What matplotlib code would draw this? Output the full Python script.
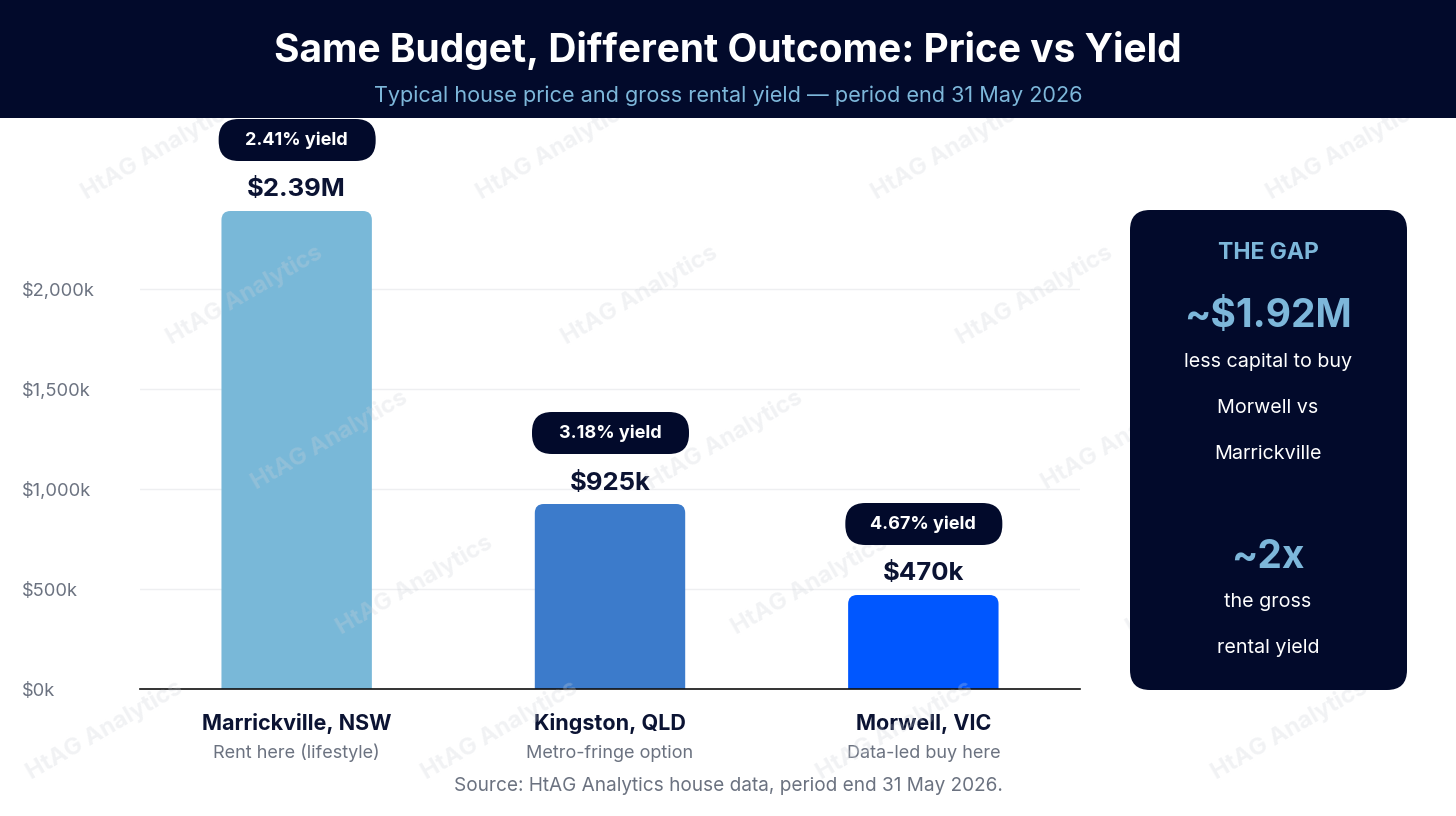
import matplotlib.pyplot as plt
from matplotlib.patches import FancyBboxPatch, Rectangle
from matplotlib.transforms import IdentityTransform, blended_transform_factory

# data
suburbs   = ['Marrickville, NSW', 'Kingston, QLD', 'Morwell, VIC']
roles     = ['Rent here (lifestyle)', 'Metro-fringe option', 'Data-led buy here']
prices_k  = [2390, 925, 470]
price_lbl = ['$2.39M', '$925k', '$470k']
yields    = [2.41, 3.18, 4.67]
ytick_vals = [0, 500, 1000, 1500, 2000]
ytick_lbls = ['$0k', '$500k', '$1,000k', '$1,500k', '$2,000k']
gap_lines = ['less capital to buy', 'Morwell vs', 'Marrickville']
yld_lines = ['the gross', 'rental yield']

NAVY = '#020a2b'
LBLUE = '#7db7da'
DARK = '#0b1333'
GREY = '#6b7280'
bar_colors = ['#79b8d8', '#3c7bcb', '#0057ff']

plt.rcParams['font.family'] = ['Inter', 'DejaVu Sans']

W, H = 1456, 816
fig = plt.figure(figsize=(W / 100, H / 100), dpi=100)
fig.patch.set_facecolor('white')

def fx(x):
    return x / W

def fy(y):
    return 1 - y / H

# axes: x 140..1080, y 118..689 px
ax = fig.add_axes([fx(140), fy(689), fx(1080) - fx(140), (689 - 118) / H])
ymax = (689 - 118) / 0.2
ax.set_xlim(-0.5, 2.5)
ax.set_ylim(0, ymax)
for s in ax.spines.values():
    s.set_visible(False)
ax.set_xticks([])
ax.set_yticks(ytick_vals)
ax.set_yticklabels(ytick_lbls, fontsize=13.2, color=GREY)
ax.tick_params(axis='y', length=0, pad=85)
for lbl in ax.get_yticklabels():
    lbl.set_horizontalalignment('left')
for v in ytick_vals[1:]:
    ax.axhline(v, color='#eeeff1', lw=1, zorder=0)
ax.axhline(0, color='#111111', lw=1.2, zorder=4, clip_on=False)

# rounded bars
bw = 0.48
xs = list(range(len(suburbs)))
bars = ax.bar(xs, prices_k, width=bw, color=bar_colors)
aspect = (ymax / 571) / (3.0 / 940)
for rect, c in zip(bars, bar_colors):
    x0, w, h = rect.get_x(), rect.get_width(), rect.get_height()
    rect.remove()
    r = 9 / 940 * 3.0
    p = FancyBboxPatch((x0, -60), w, h + 60,
                       boxstyle='round,pad=0,rounding_size=%f' % r,
                       mutation_aspect=aspect, fc=c, ec='none', zorder=2)
    ax.add_patch(p)

fig.canvas.draw()
for i in xs:
    px, py = ax.transData.transform((i, prices_k[i]))
    ax.annotate(price_lbl[i], (i, prices_k[i]), xytext=(0, 21), textcoords='offset pixels',
                ha='center', va='center', fontsize=18.5, fontweight='bold', color=DARK,
                annotation_clip=False)
    cy = py + 71
    pill = FancyBboxPatch((px - 78, cy - 21), 157, 42,
                          boxstyle='round,pad=0,rounding_size=20',
                          transform=IdentityTransform(), fc=NAVY, ec='none', zorder=6)
    fig.add_artist(pill)
    fig.text(px / W, cy / H, '%.2f%% yield' % yields[i], ha='center', va='center',
             fontsize=13, fontweight='bold', color='white', zorder=7)

tr = blended_transform_factory(ax.transData, ax.transAxes)
for i in xs:
    ax.text(i, -35 / 571, suburbs[i], transform=tr, ha='center', va='center',
            fontsize=15.5, fontweight='bold', color=DARK)
    ax.text(i, -64 / 571, roles[i], transform=tr, ha='center', va='center',
            fontsize=13, color=GREY)

fig.text(fx(728), fy(786), 'Source: HtAG Analytics house data, period end 31 May 2026.',
         ha='center', va='center', fontsize=13.7, color=GREY)

# watermarks (only those that fit inside the canvas)
for r in range(6):
    for k in range(-1, 5):
        wx = 160 + 85 * r + 395 * k
        wy = 150 + 145 * r
        if wx < 85 or wx > W - 85 or wy > H - 50:
            continue
        fig.text(fx(wx), fy(wy), 'HtAG Analytics', rotation=30, ha='center', va='center',
                 fontsize=17, fontweight='bold', color='#cfd3da', alpha=0.28, zorder=5)

# header
fig.add_artist(Rectangle((0, fy(118)), 1, 118 / H, transform=fig.transFigure,
                         fc=NAVY, ec='none', zorder=10))
fig.text(0.5, fy(51), 'Same Budget, Different Outcome: Price vs Yield', ha='center',
         va='center', fontsize=28, fontweight='bold', color='white', zorder=11)
fig.text(0.5, fy(96), 'Typical house price and gross rental yield \u2014 period end 31 May 2026',
         ha='center', va='center', fontsize=15.6, color=LBLUE, zorder=11)

# side panel
fig.add_artist(FancyBboxPatch((1130, H - 690), 277, 480,
                              boxstyle='round,pad=0,rounding_size=20',
                              transform=IdentityTransform(), fc=NAVY, ec='none', zorder=10))
cx = fx(1268)
fig.text(cx, fy(253), 'THE GAP', ha='center', va='center', fontsize=16.5,
         fontweight='bold', color=LBLUE, zorder=11)
fig.text(cx, fy(317), '~$1.92M', ha='center', va='center', fontsize=28,
         fontweight='bold', color=LBLUE, zorder=11)
for j, t in enumerate(gap_lines):
    fig.text(cx, fy(362 + 46 * j), t, ha='center', va='center', fontsize=14.2,
             color='white', zorder=11)
fig.text(cx, fy(557), '~2x', ha='center', va='center', fontsize=28,
         fontweight='bold', color=LBLUE, zorder=11)
for j, t in enumerate(yld_lines):
    fig.text(cx, fy(602 + 46 * j), t, ha='center', va='center', fontsize=14.2,
             color='white', zorder=11)

fig.savefig('out.png', dpi=100)
